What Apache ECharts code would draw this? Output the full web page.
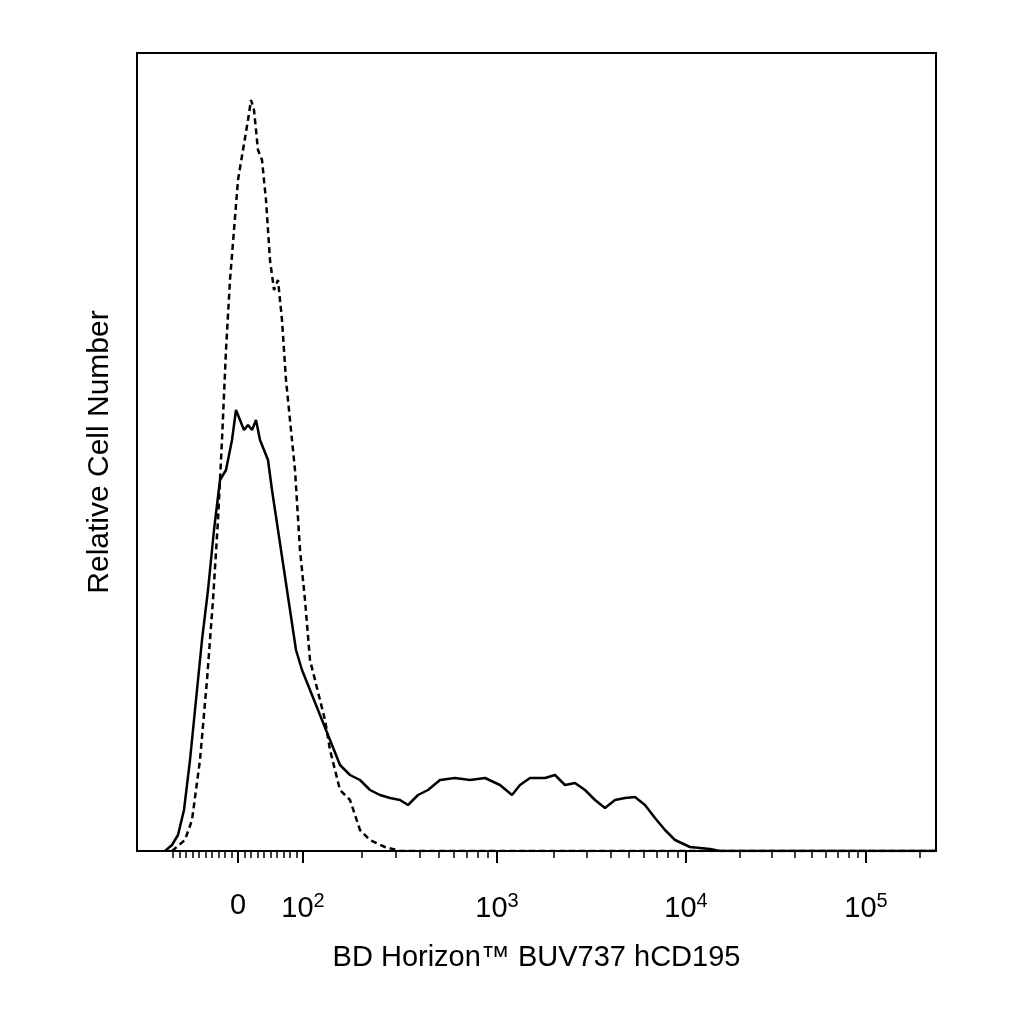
<!DOCTYPE html><html><head><meta charset="utf-8">
<script src="https://cdn.jsdelivr.net/npm/echarts@6/dist/echarts.min.js"></script>
<style>html,body{margin:0;background:#fff}#c{width:1024px;height:1024px}</style></head><body><div id="c"></div>
<script>
// x: display channel (biexponential scale), y: relative counts
const dashed = [[35,0],[48,11],[55,31],[63,91],[70,171],[76,251],[81,331],[85,411],[89,501],[93,571],[97,621],[101,671],[106,701],[111,731],[114,751],[117,741],[121,701],[125,691],[129,651],[133,591],[137,561],[141,571],[145,531],[149,471],[153,431],[158,381],[163,301],[168,251],[173,191],[178,171],[183,151],[188,131],[193,101],[198,81],[203,61],[208,56],[213,51],[218,36],[223,21],[233,11],[248,4],[263,0],[799,0]];
const solid = [[28,0],[35,6],[41,16],[47,41],[53,91],[59,151],[65,211],[71,261],[77,321],[83,371],[89,381],[95,411],[99,441],[103,431],[107,421],[111,426],[115,421],[119,431],[123,411],[127,401],[131,391],[135,361],[141,321],[147,281],[153,241],[159,201],[165,181],[173,161],[181,141],[189,121],[197,101],[203,86],[213,76],[223,71],[233,61],[243,56],[253,53],[263,51],[271,46],[281,56],[291,61],[303,71],[318,73],[333,71],[348,73],[363,66],[375,56],[383,66],[393,73],[408,73],[418,76],[428,66],[438,68],[448,61],[458,51],[468,43],[478,51],[488,53],[498,54],[508,46],[518,33],[528,21],[538,11],[553,4],[573,2],[583,0],[799,0]];
const majorTicks = [101,166,360,549,729];
const majorLabels = ['0','10|2','10|3','10|4','10|5'];
const decadeStarts = [166,360,549];
const decadeWidths = [194,189,180];
const minorTicks = [];
for (let v=36; v<166; v+=6.5) minorTicks.push(v);
decadeStarts.forEach((s,i)=>{for(let k=2;k<=9;k++) minorTicks.push(s+decadeWidths[i]*Math.log10(k));});
for(let k=2;k<=9;k++){const p=729+180*Math.log10(k); if(p<799) minorTicks.push(p);}
const chart = echarts.init(document.getElementById('c'));
const F = '"Liberation Sans", Arial, sans-serif';
chart.setOption({
  animation:false,
  grid:{left:137,right:88,top:53,bottom:173,show:true,borderColor:'#000',borderWidth:2},
  xAxis:[{type:'value',min:0,max:799,position:'bottom',
    axisLine:{lineStyle:{color:'#000',width:2}},splitLine:{show:false},
    axisTick:{customValues:majorTicks,length:12,lineStyle:{color:'#000',width:2}},
    axisLabel:{customValues:majorTicks,margin:40,color:'#000',fontFamily:F,fontSize:29,
      formatter:v=>{const s=majorLabels[majorTicks.indexOf(v)];if(!s)return'';const p=s.split('|');return p.length>1?'{b|'+p[0]+'}{s|'+p[1]+'}':'{b|'+p[0]+'}';},
      rich:{b:{fontSize:29,fontFamily:F,color:'#000'},s:{fontSize:20,fontFamily:F,color:'#000',padding:[0,0,16,0]}}},
    name:'BD Horizon™ BUV737 hCD195',nameLocation:'middle',nameGap:92,
    nameTextStyle:{color:'#000',fontFamily:F,fontSize:29}},
   {type:'value',min:0,max:799,position:'bottom',
    axisLine:{show:false},splitLine:{show:false},axisLabel:{show:false},
    axisTick:{customValues:minorTicks,length:7,lineStyle:{color:'#000',width:1.5}}}],
  yAxis:{type:'value',min:0,max:798,axisLine:{show:false},axisTick:{show:false},axisLabel:{show:false},splitLine:{show:false},
    name:'Relative Cell Number',nameLocation:'middle',nameGap:22,nameTextStyle:{color:'#000',fontFamily:F,fontSize:30}},
  series:[
    {type:'line',data:dashed,showSymbol:false,lineStyle:{color:'#000',width:2.5,type:[6,4]}},
    {type:'line',data:solid,showSymbol:false,lineStyle:{color:'#000',width:2.5}}
  ]
});
</script></body></html>
